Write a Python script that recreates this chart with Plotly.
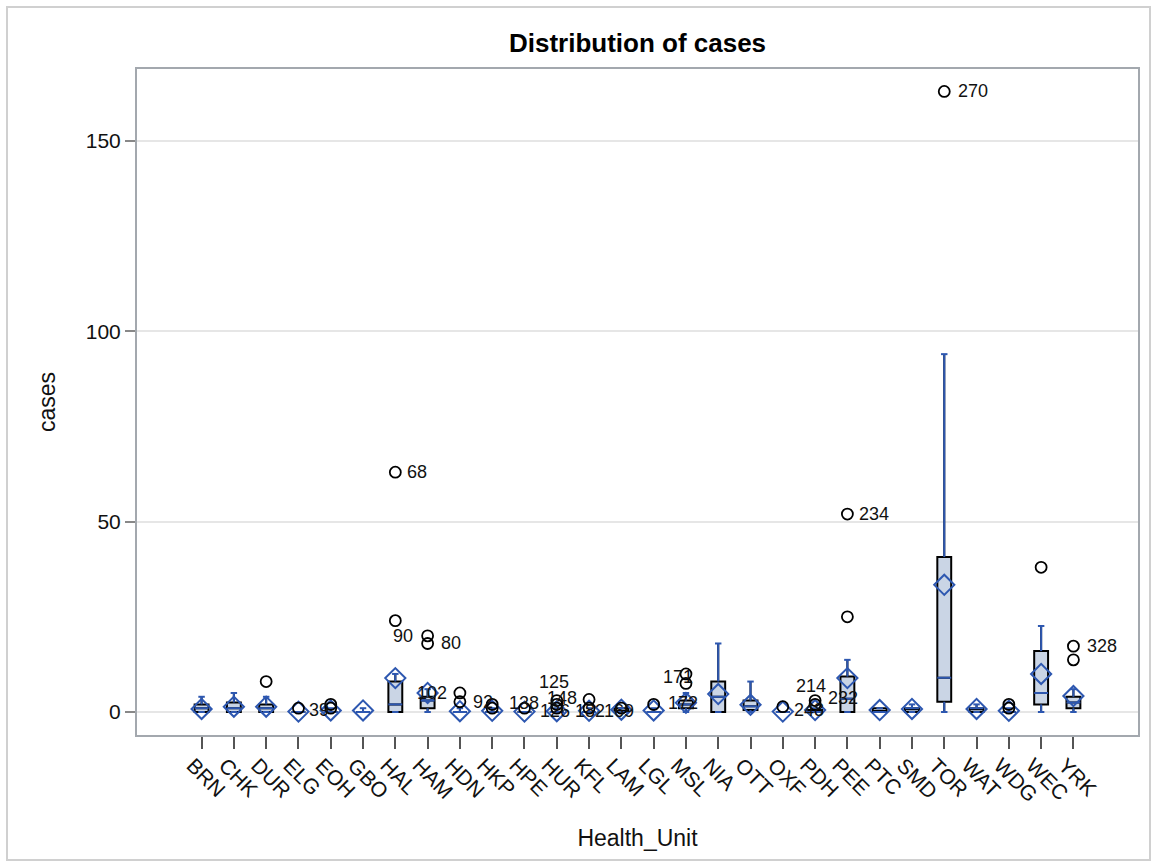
import plotly.graph_objects as go

# ---------------- data ----------------
units = ["BRN", "CHK", "DUR", "ELG", "EOH", "GBO", "HAL", "HAM", "HDN", "HKP",
         "HPE", "HUR", "KFL", "LAM", "LGL", "MSL", "NIA", "OTT", "OXF", "PDH",
         "PEE", "PTC", "SMD", "TOR", "WAT", "WDG", "WEC", "YRK"]
q1 =     [0, 0, 0, 0, 0, 0, 0, 1, 0, 0, 0, 0, 0, 0, 0, 1, 0, 0.5, 0, 0, 0, 0, 0, 2.7, 0, 0, 2, 1]
median = [1, 1, 1, 0, 0, 0, 2, 3, 0, 0, 0, 0, 0, 0, 0, 2, 4, 1.5, 0, 0, 3.5, 0, 1, 9, 1, 0, 5, 2.5]
q3 =     [2, 2.5, 2, 0, 0, 0, 8, 4, 0, 0, 0, 0, 0, 1, 0, 3, 8, 3, 0, 0.5, 9.3, 1, 1, 40.7, 1, 0, 16, 4]
lowerfence = [0] * 28
upperfence = [4, 5, 4, 0, 1, 1, 10, 6, 1, 1, 0, 1, 1, 1, 1, 5, 18, 8, 0, 1, 13.7, 1, 2, 94, 2, 1, 22.6, 6]
means = [0.8, 1.4, 1.4, 0.1, 0.4, 0.4, 8.9, 5.0, 0.2, 0.3, 0.1, 0.2, 0.3, 0.6, 0.4, 2.4,
         4.7, 1.9, 0.1, 0.5, 8.9, 0.5, 0.8, 33.4, 0.8, 0.3, 10.0, 4.2]

outlier_unit = ["DUR", "ELG", "EOH", "EOH", "HAL", "HAL", "HAM", "HAM", "HDN", "HDN",
                "HKP", "HKP", "HPE", "HUR", "HUR", "HUR", "KFL", "KFL", "LAM", "LGL",
                "MSL", "MSL", "OXF", "PDH", "PDH", "PEE", "PEE", "TOR", "WDG", "WDG",
                "WEC", "YRK", "YRK"]
outlier_val = [8, 1, 2, 1, 24, 63, 20, 18, 5, 2.7,
               2, 1, 1, 3, 2, 1, 3.3, 1, 1, 2,
               10, 7.5, 1.4, 3, 2, 25, 52, 163, 2, 1,
               38, 17.3, 13.7]
outlier_lab = ["", "39", "", "", "90", "68", "", "80", "102", "92",
               "", "", "138", "125", "148", "126", "", "182", "169", "172",
               "", "171", "248", "214", "232", "", "234", "270", "", "",
               "", "328", ""]

y_ticks = [0, 50, 100, 150]

# ---------------- style ----------------
BLUE = "#2D57B0"
FILL = "#CAD5E5"
BOX_W = 0.43
CAP_W = 0.2
FONT = "Liberation Sans, Arial, sans-serif"
# label placement: (xanchor, xshift px, yshift px)
label_style = {
    "39": ("left", 9, -2), "90": ("left", -4, -15), "68": ("left", 10, 0),
    "80": ("left", 11, 0), "102": ("right", -11, 0), "92": ("left", 11, 0),
    "138": ("center", 0, 5), "125": ("center", -3, 19), "148": ("center", 5, 6),
    "126": ("center", -2, -3), "182": ("center", 1, -3), "169": ("center", -2, -3),
    "172": ("left", 12, 1), "171": ("center", -8, 6), "248": ("left", 9, -3),
    "214": ("center", -4, 15), "232": ("left", 11, 6), "234": ("left", 10, 0),
    "270": ("left", 12, 0), "328": ("left", 12, 0),
}

xs = list(range(len(units)))
pos = {u: i for i, u in enumerate(units)}

fig = go.Figure()

# boxes (black outline, light fill)
fig.add_trace(go.Box(
    x=xs, q1=q1, median=median, q3=q3,
    lowerfence=lowerfence, upperfence=upperfence,
    width=BOX_W, whiskerwidth=0, boxpoints=False,
    fillcolor=FILL, line=dict(color="black", width=2),
    showlegend=False, hoverinfo="skip",
))

# blue whiskers with caps and blue medians
wx, wy = [], []
for i in xs:
    for a, b in ((q3[i], upperfence[i]), (q1[i], lowerfence[i])):
        wx += [i, i, None, i - CAP_W / 2, i + CAP_W / 2, None]
        wy += [a, b, None, b, b, None]
    wx += [i - BOX_W / 2, i + BOX_W / 2, None]
    wy += [median[i], median[i], None]
fig.add_trace(go.Scatter(x=wx, y=wy, mode="lines",
                         line=dict(color=BLUE, width=2),
                         showlegend=False, hoverinfo="skip"))

# mean diamonds
fig.add_trace(go.Scatter(x=xs, y=means, mode="markers",
                         marker=dict(symbol="diamond-open", size=15.5, color=BLUE,
                                     line=dict(width=2, color=BLUE)),
                         showlegend=False))

# outliers
ox = [pos[u] for u in outlier_unit]
fig.add_trace(go.Scatter(x=ox, y=outlier_val, mode="markers",
                         marker=dict(symbol="circle-open", size=11, color="black",
                                     line=dict(width=1.8, color="black")),
                         showlegend=False))

for x, v, t in zip(ox, outlier_val, outlier_lab):
    if not t:
        continue
    anc, dx, dy = label_style.get(t, ("left", 11, 0))
    fig.add_annotation(x=x, y=v, text=t, showarrow=False, xanchor=anc, yanchor="middle",
                       xshift=dx, yshift=dy, font=dict(size=18, color="#111", family=FONT))

# outer border
fig.add_shape(type="rect", xref="paper", yref="paper",
              x0=(7 - 137) / 1001, x1=(1150 - 137) / 1001,
              y0=(735 - 860) / 666, y1=(735 - 7) / 666,
              line=dict(color="#D0D0D0", width=2), layer="below")

fig.update_layout(
    width=1154, height=865,
    margin=dict(l=137, r=16, t=69, b=130),
    paper_bgcolor="white", plot_bgcolor="white",
    font=dict(family=FONT, color="#111"),
    title=dict(text="<b>Distribution of cases</b>", x=(137 + 1138) / 2 / 1154, xanchor="center",
               y=1 - 43 / 865, yanchor="middle", yref="container",
               font=dict(size=26, color="black", family=FONT)),
    showlegend=False,
)
fig.update_xaxes(
    range=[-2, 29], tickmode="array", tickvals=xs, ticktext=units,
    tickangle=45, ticks="outside", ticklen=12, tickwidth=1.5, tickcolor="#555",
    tickfont=dict(size=21, color="#111"), ticklabelshift=-9, ticklabelstandoff=-4,
    showline=True, mirror=True, linecolor="#A3A8AE", linewidth=2,
    showgrid=False, zeroline=False,
    title=dict(text="Health_Unit", font=dict(size=23, color="#111"), standoff=25),
    automargin=False,
)
fig.update_yaxes(
    range=[-6.04, 168.9], tickmode="array", tickvals=y_ticks,
    ticks="outside", ticklen=10, tickwidth=1.5, tickcolor="#888",
    tickfont=dict(size=21, color="#111"),
    showline=True, mirror=True, linecolor="#A3A8AE", linewidth=2,
    showgrid=True, gridcolor="#E6E6E6", gridwidth=1.5, zeroline=False,
    title=dict(text="cases", font=dict(size=23, color="#111"), standoff=24),
    automargin=False,
)

fig.write_html("out.html")
